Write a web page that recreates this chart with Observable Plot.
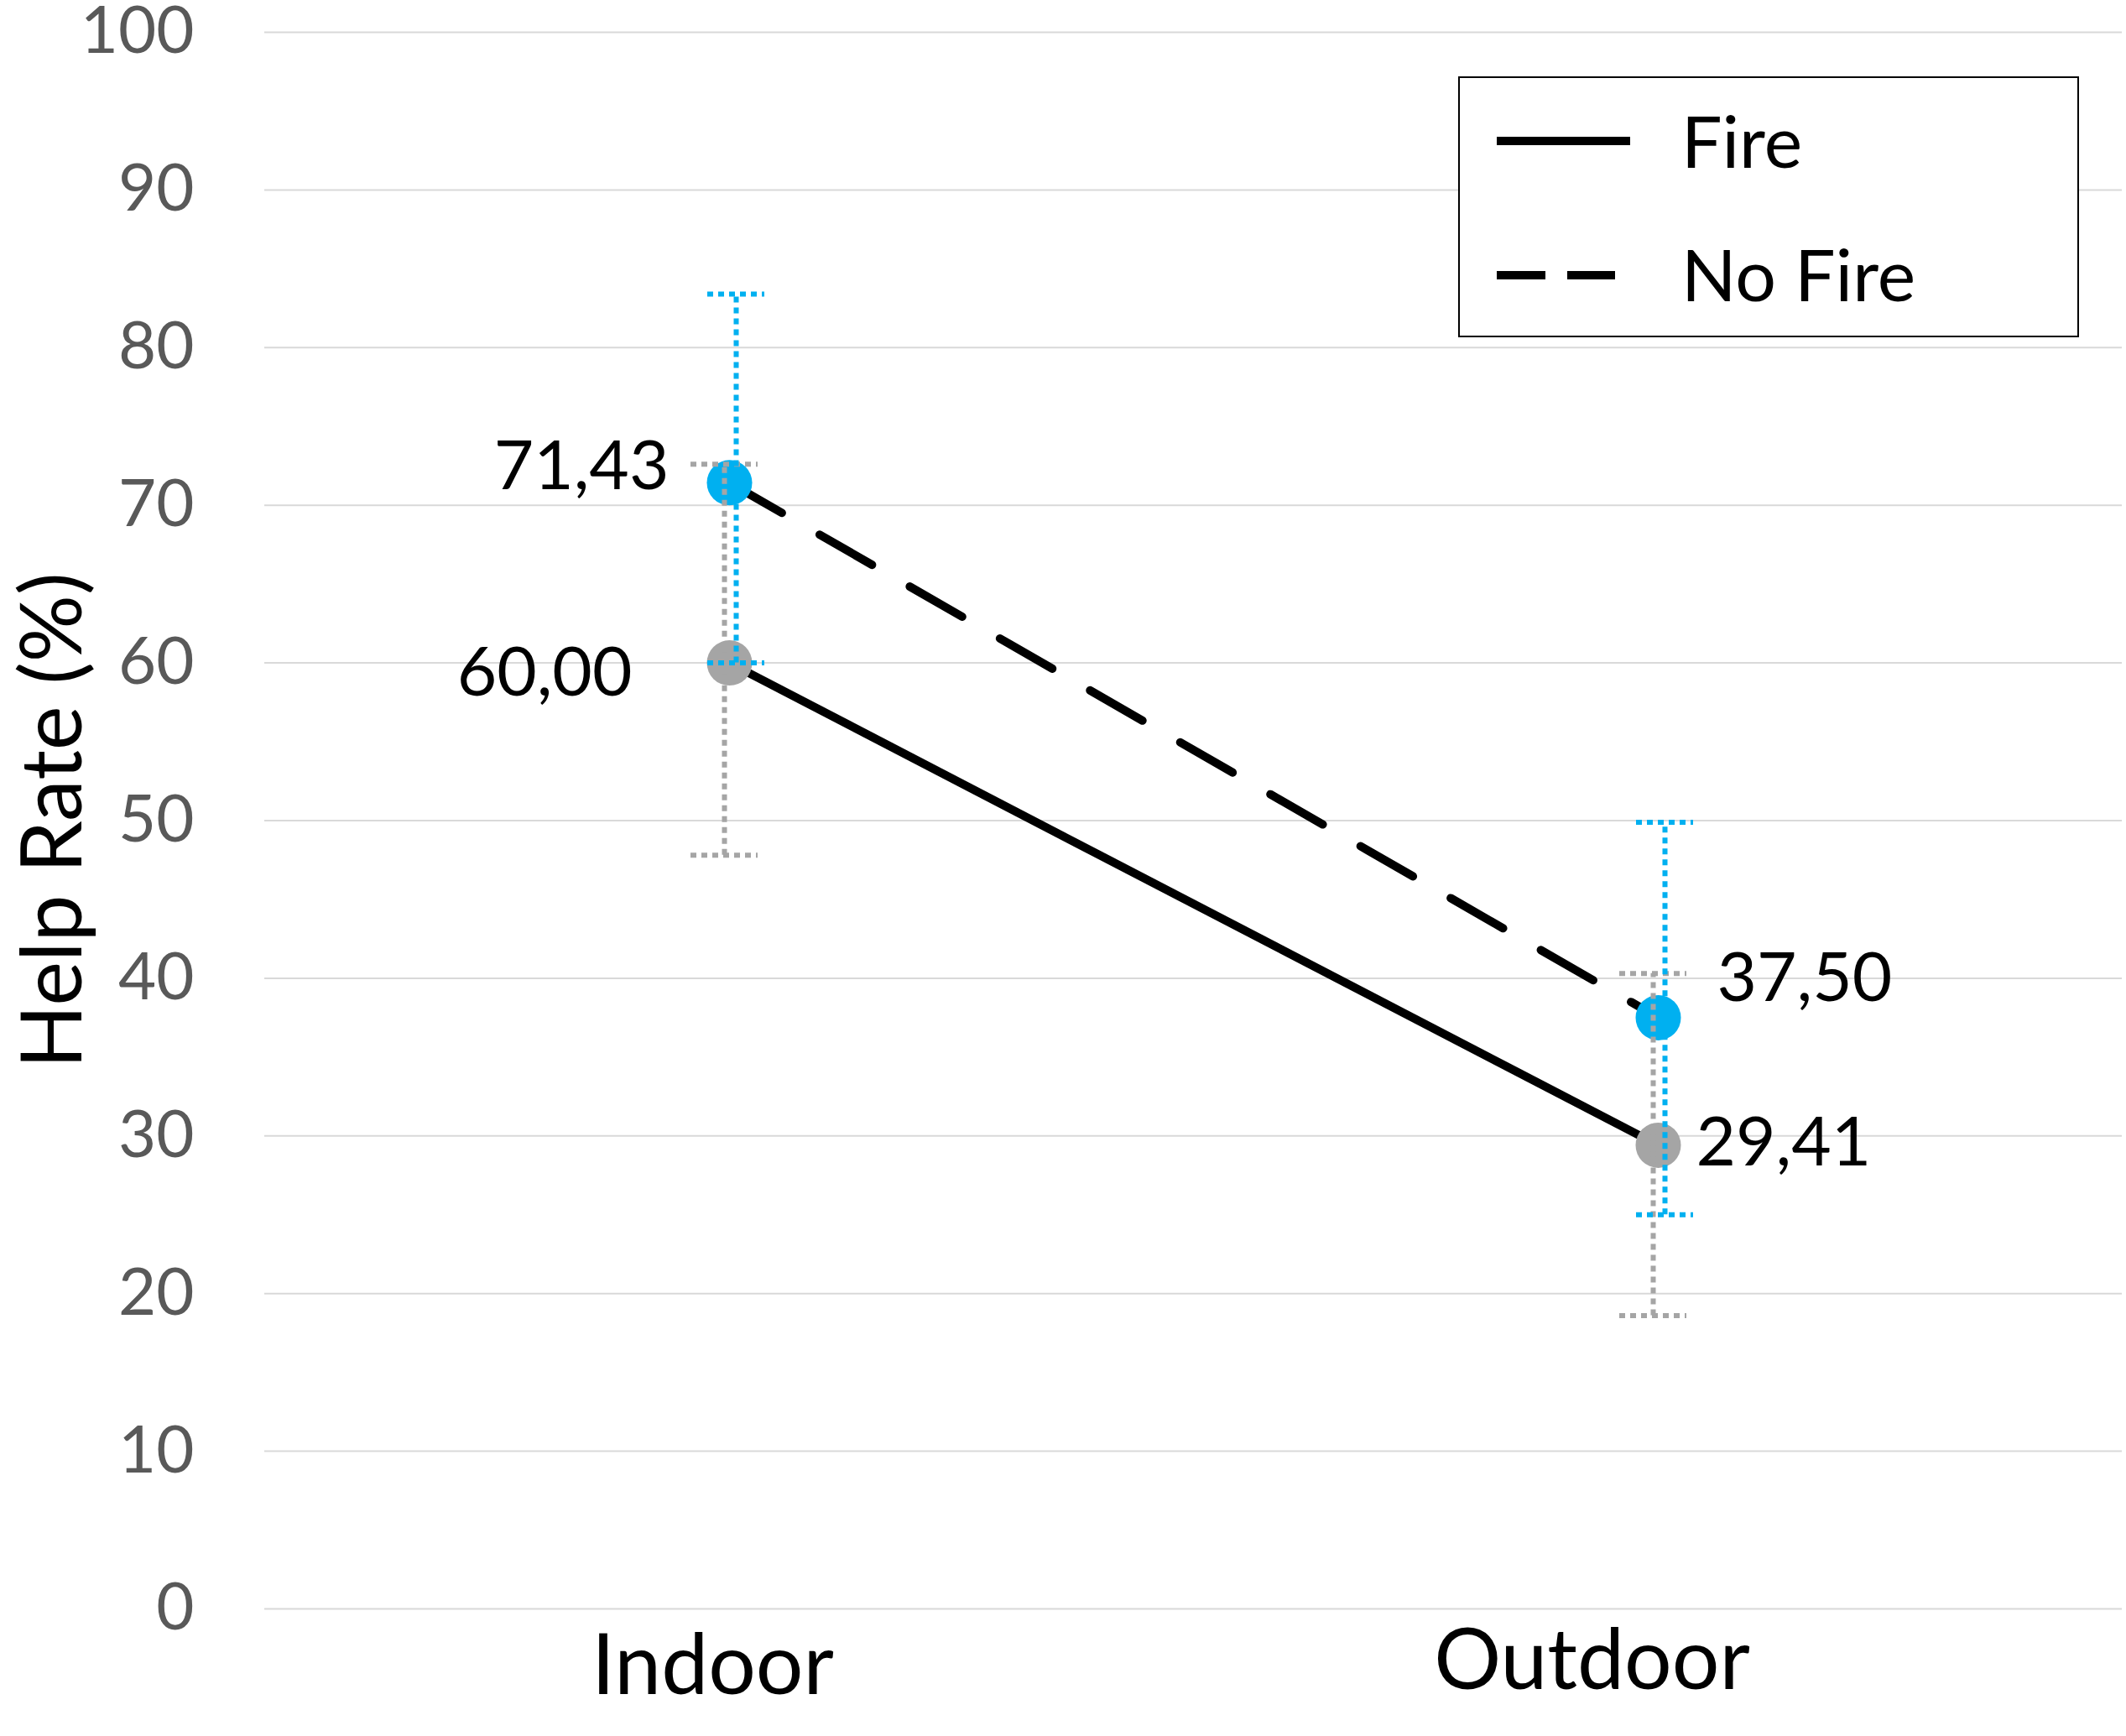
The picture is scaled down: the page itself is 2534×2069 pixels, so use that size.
<!DOCTYPE html>
<html>
<head>
<meta charset="utf-8">
<script src="https://cdn.jsdelivr.net/npm/d3@7"></script>
<script src="https://cdn.jsdelivr.net/npm/@observablehq/plot@0.6"></script>
<style>
  html, body { margin: 0; padding: 0; background: #fff; }
  #chart svg { display: block; }
</style>
</head>
<body>
<div id="chart"></div>
<script>
// ---- data ----
const categories = ["Indoor", "Outdoor"];
const seriesNames = ["Fire", "No Fire"];
const fireValues = [60.00, 29.41];
const noFireValues = [71.43, 37.50];
const fireLow = [47.8, 18.6];
const fireHigh = [72.6, 40.3];
const noFireLow = [60.0, 25.0];
const noFireHigh = [83.4, 49.9];
const yTicks = [0, 10, 20, 30, 40, 50, 60, 70, 80, 90, 100];
const yTitle = "Help Rate (%)";

const seriesColor = {"Fire": "#A5A5A5", "No Fire": "#00B0F0"};
const seriesDash = {"Fire": null, "No Fire": "72,52"};

const rows = [];
categories.forEach((c, i) => {
  rows.push({series: "Fire", cat: c, value: fireValues[i], lo: fireLow[i], hi: fireHigh[i]});
  rows.push({series: "No Fire", cat: c, value: noFireValues[i], lo: noFireLow[i], hi: noFireHigh[i]});
});
const fmt = v => v.toFixed(2).replace(".", ",");

// label offsets (style) per series/category
const labelStyle = {
  "No Fire|Indoor": {textAnchor: "end", dx: -72, dy: -19},
  "Fire|Indoor": {textAnchor: "end", dx: -116, dy: 13},
  "No Fire|Outdoor": {textAnchor: "start", dx: 70, dy: -46},
  "Fire|Outdoor": {textAnchor: "start", dx: 45, dy: -2}
};

const W = 2534, H = 2069;
const font = "Lato, 'Open Sans', sans-serif";

const marks = [
  Plot.gridY(yTicks, {stroke: "#D9D9D9", strokeOpacity: 1, strokeWidth: 2}),
  Plot.axisY(yTicks, {tickSize: 0, tickPadding: 84, fontSize: 78, fill: "#595959", label: null}),
  Plot.axisX(["Indoor"], {tickSize: 0, tickPadding: 30, fontSize: 100, fill: "#000", label: null, dx: -20}),
  Plot.axisX(["Outdoor"], {tickSize: 0, tickPadding: 24, fontSize: 100, fill: "#000", label: null, dx: -79})
];

for (const s of seriesNames) {
  const d = rows.filter(r => r.series === s);
  marks.push(Plot.line(d, {x: "cat", y: "value", stroke: "#000", strokeWidth: 10,
    strokeDasharray: seriesDash[s], strokeLinecap: seriesDash[s] ? "round" : "butt"}));
}
for (const s of seriesNames) {
  const d = rows.filter(r => r.series === s);
  marks.push(Plot.dot(d, {x: "cat", y: "value", r: 27, fill: seriesColor[s], stroke: null}));
}
for (const s of seriesNames) {
  const d = rows.filter(r => r.series === s);
  const dx = s === "Fire" ? -6 : 8;
  const inset = s === "Fire" ? 0 : 6;
  marks.push(Plot.ruleX(d, {x: "cat", y1: "lo", y2: "hi", stroke: seriesColor[s], strokeWidth: 6, strokeDasharray: "7,6", dx}));
  marks.push(Plot.tickY(d, {x: "cat", y: "hi", stroke: seriesColor[s], strokeWidth: 6, strokeDasharray: "7,6", dx, insetLeft: inset, insetRight: inset}));
  marks.push(Plot.tickY(d, {x: "cat", y: "lo", stroke: seriesColor[s], strokeWidth: 6, strokeDasharray: "7,6", dx, insetLeft: inset, insetRight: inset}));
}
for (const s of seriesNames) {
  for (const c of categories) {
    const st = labelStyle[s + "|" + c];
    const d = rows.filter(r => r.series === s && r.cat === c);
    marks.push(Plot.text(d, {x: "cat", y: "value", text: r => fmt(r.value), fontSize: 82, fill: "#000",
      textAnchor: st.textAnchor, dx: st.dx, dy: st.dy}));
  }
}

const chart = Plot.plot({
  width: W,
  height: H,
  marginLeft: 315,
  marginRight: 5,
  marginTop: 38,
  marginBottom: 152,
  style: {fontFamily: font, background: "#fff", overflow: "visible"},
  x: {type: "band", domain: categories, paddingInner: 0.928, paddingOuter: 0.464, axis: null},
  y: {domain: [0, 100], axis: null},
  marks
});

const svg = d3.select(chart);
// y title
svg.append("text")
  .attr("transform", "translate(97,978) rotate(-90)")
  .attr("text-anchor", "middle")
  .attr("font-family", font)
  .attr("font-size", 100)
  .attr("fill", "#000")
  .text(yTitle);

// legend
const lg = svg.append("g").attr("text-anchor", "start");
lg.append("rect").attr("x", 1739).attr("y", 92).attr("width", 738).attr("height", 309)
  .attr("fill", "#fff").attr("stroke", "#000").attr("stroke-width", 2);
lg.append("line").attr("x1", 1784).attr("x2", 1943).attr("y1", 168).attr("y2", 168)
  .attr("stroke", "#000").attr("stroke-width", 10);
lg.append("line").attr("x1", 1784).attr("x2", 1925).attr("y1", 328).attr("y2", 328)
  .attr("stroke", "#000").attr("stroke-width", 10).attr("stroke-dasharray", "58,26");
lg.append("text").attr("x", 2004).attr("y", 200).attr("text-anchor", "start").attr("font-family", font).attr("font-size", 86)
  .attr("fill", "#000").text(seriesNames[0]);
lg.append("text").attr("x", 2004).attr("y", 359).attr("text-anchor", "start").attr("font-family", font).attr("font-size", 86)
  .attr("fill", "#000").text(seriesNames[1]);

document.getElementById("chart").appendChild(chart);
</script>
</body>
</html>
